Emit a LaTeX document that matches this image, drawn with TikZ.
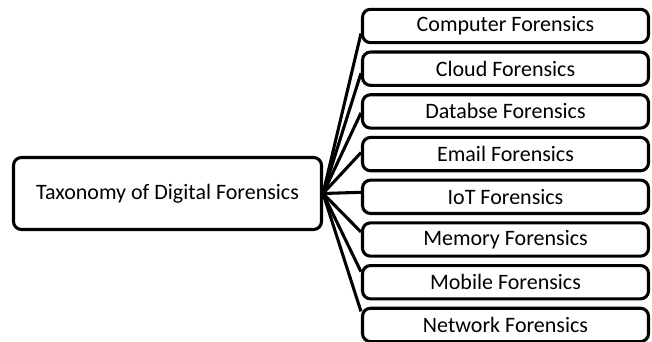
\documentclass[tikz,border=0pt]{standalone}
\usepackage{fontspec}
\setmainfont{Carlito}
\usepackage{tikz}
\usetikzlibrary{%
  positioning,calc
}

\begin{document}
\begin{tikzpicture}[x=0.75pt,y=-0.75pt,
    box/.style={draw,line width=2.3pt,rounded corners=6pt,fill=white,
      inner sep=0pt,font=\fontsize{16.5}{19}\selectfont},
    link/.style={line width=2.3pt}]
  \useasboundingbox (0,0) rectangle (652,342);
  \clip (0,0) rectangle (652,342);

  \node [box,minimum width=231pt,minimum height=54pt] (tax) at (167.5,193.5)
    {Taxonomy of Digital Forensics};

  \foreach \l [count = \i] in {Computer,Cloud,Databse,Email,IoT,Memory,Mobile,Network}{
    \node [box,minimum width=214.5pt,minimum height=25pt] (b\i)
      at (505.5,{26+(\i-1)*42.7}) {\l\ Forensics};
    \draw [link] (tax.east) -- ($(b\i.west)+(0,{(3.5-\i)*3})$);
  }
\end{tikzpicture}
\end{document}
